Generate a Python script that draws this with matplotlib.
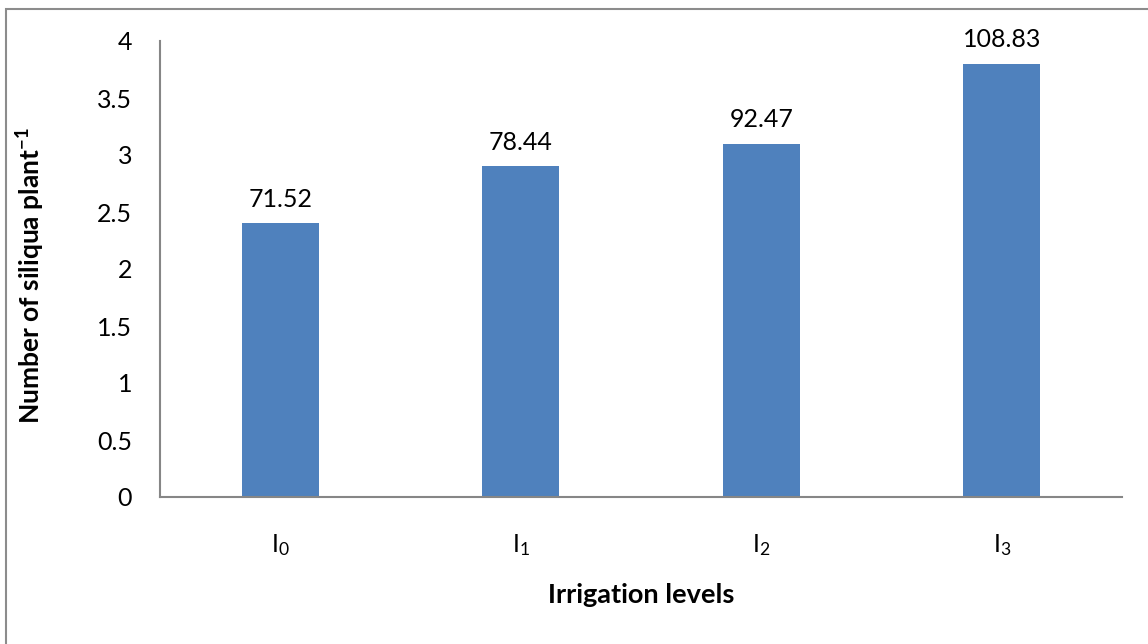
import matplotlib
matplotlib.use("Agg")
import matplotlib.pyplot as plt
from matplotlib.patches import Rectangle

categories = ["I$_0$", "I$_1$", "I$_2$", "I$_3$"]
heights = [2.4, 2.9, 3.1, 3.8]
labels = ["71.52", "78.44", "92.47", "108.83"]
yticks = [0, 0.5, 1, 1.5, 2, 2.5, 3, 3.5, 4]
ytick_labels = ["0", "0.5", "1", "1.5", "2", "2.5", "3", "3.5", "4"]

plt.rcParams['font.family'] = ['Lato', 'DejaVu Sans']
plt.rcParams['mathtext.fontset'] = 'custom'
plt.rcParams['mathtext.rm'] = 'Lato'
plt.rcParams['mathtext.it'] = 'Lato'
plt.rcParams['mathtext.bf'] = 'Lato:bold'
plt.rcParams['mathtext.default'] = 'regular'

fig = plt.figure(figsize=(11.48, 6.44), dpi=100)
ax = fig.add_axes([160/1148, 1-497/644, (1122-160)/1148, (497-41)/644])

x = list(range(len(categories)))
ax.bar(x, heights, width=0.32, color="#4F81BD", zorder=2)
for xi, h, lab in zip(x, heights, labels):
    ax.annotate(lab, (xi, h), xytext=(0, 9), textcoords="offset points",
                ha="center", va="bottom", fontsize=18, color="black")

ax.set_xlim(-0.5, 3.5)
ax.set_ylim(0, 4)
ax.set_yticks(yticks)
ax.set_yticklabels(ytick_labels)
ax.set_xticks(x)
ax.set_xticklabels(categories)
ax.tick_params(axis='y', length=0, pad=20, labelsize=18)
ax.tick_params(axis='x', length=0, pad=25, labelsize=18)

for s in ["top", "right"]:
    ax.spines[s].set_visible(False)
for s in ["left", "bottom"]:
    ax.spines[s].set_color("#868686")
    ax.spines[s].set_linewidth(1.5)

ax.set_xlabel("Irrigation levels", fontsize=19.5, fontweight="bold", labelpad=18)
ax.set_ylabel("Number of siliqua plant$^{\\mathbf{-1}}$", fontsize=19, fontweight="bold")
ax.yaxis.set_label_coords(-0.117, 0.485)

fig.patches.append(Rectangle((6/1148, -0.1), 1.2, 1 - 9/644 + 0.1, transform=fig.transFigure,
                             fill=False, edgecolor="#8c8c8c", linewidth=1.5))

fig.savefig("out.png", dpi=100)
